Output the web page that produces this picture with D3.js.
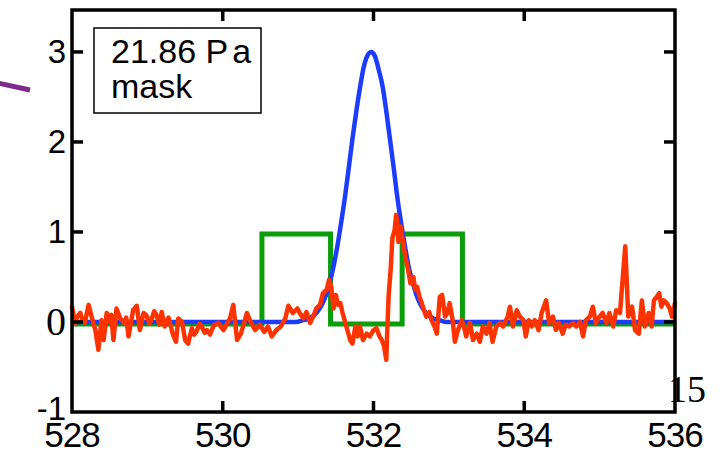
<!DOCTYPE html>
<html>
<head>
<meta charset="utf-8">
<script src="https://cdn.jsdelivr.net/npm/d3@7"></script>
<style>
  html, body { margin: 0; padding: 0; background: #fff; }
  svg { display: block; }
</style>
</head>
<body>
<svg id="chart" width="722" height="452"></svg>
<script>
// Axis ticks
const xTicks = [528, 530, 532, 534, 536];
const yTicks = [-1, 0, 1, 2, 3];

// Mask (step function): level holds from each edge to the next
const maskEdges  = [528, 530.52, 531.43, 532.38, 533.18, 536];
const maskLevels = [0, 1, 0, 1, 0, 0];

// Smooth reference peak
const peakX = [528, 530.97, 531.07, 531.12, 531.17, 531.22, 531.27, 531.32, 531.37, 531.42,
  531.47, 531.52, 531.57, 531.62, 531.67, 531.72, 531.77, 531.82, 531.87, 531.92, 531.97,
  532.02, 532.07, 532.12, 532.17, 532.22, 532.27, 532.32, 532.37, 532.42, 532.47, 532.52,
  532.57, 532.62, 532.67, 532.72, 532.77, 532.82, 532.87, 532.97, 536];
const peakY = [0, 0, 0.02, 0.03, 0.05, 0.08, 0.13, 0.20, 0.30, 0.44,
  0.62, 0.84, 1.10, 1.38, 1.70, 2.03, 2.33, 2.60, 2.83, 2.96, 3.00,
  2.95, 2.80, 2.62, 2.34, 2.02, 1.70, 1.36, 1.08, 0.83, 0.60, 0.44,
  0.30, 0.20, 0.13, 0.08, 0.05, 0.03, 0.02, 0, 0];

// Measured signal
const signalX = [528.00, 528.02, 528.04, 528.07, 528.11, 528.14, 528.17, 528.22, 528.26, 528.31,
  528.35, 528.39, 528.42, 528.46, 528.50, 528.52, 528.55, 528.59, 528.64, 528.69,
  528.72, 528.75, 528.81, 528.86, 528.90, 528.95, 528.99, 529.03, 529.06, 529.09,
  529.12, 529.16, 529.19, 529.23, 529.28, 529.34, 529.38, 529.41, 529.46, 529.50,
  529.54, 529.59, 529.62, 529.65, 529.69, 529.72, 529.76, 529.79, 529.83, 529.88,
  529.94, 530.01, 530.07, 530.10, 530.14, 530.19, 530.24, 530.28, 530.32, 530.37,
  530.43, 530.49, 530.55, 530.60, 530.65, 530.71, 530.77, 530.83, 530.87, 530.93,
  530.99, 531.02, 531.07, 531.11, 531.16, 531.20, 531.24, 531.29, 531.33, 531.38,
  531.41, 531.44, 531.47, 531.50, 531.53, 531.56, 531.59, 531.64, 531.69, 531.72,
  531.76, 531.79, 531.82, 531.86, 531.91, 531.95, 532.00, 532.04, 532.08, 532.11,
  532.14, 532.17, 532.18, 532.20, 532.23, 532.25, 532.28, 532.30, 532.32, 532.33,
  532.36, 532.40, 532.43, 532.46, 532.49, 532.53, 532.55, 532.58, 532.61, 532.64,
  532.67, 532.70, 532.74, 532.77, 532.81, 532.84, 532.88, 532.91, 532.95, 532.98,
  533.01, 533.05, 533.08, 533.12, 533.17, 533.20, 533.23, 533.28, 533.32, 533.37,
  533.41, 533.45, 533.50, 533.54, 533.58, 533.63, 533.68, 533.72, 533.78, 533.81,
  533.85, 533.90, 533.94, 533.99, 534.02, 534.06, 534.10, 534.14, 534.19, 534.23,
  534.29, 534.33, 534.38, 534.42, 534.46, 534.51, 534.55, 534.60, 534.65, 534.69,
  534.74, 534.78, 534.82, 534.87, 534.91, 534.95, 535.00, 535.04, 535.09, 535.13,
  535.18, 535.22, 535.27, 535.34, 535.38, 535.43, 535.47, 535.52, 535.56, 535.60,
  535.65, 535.69, 535.72, 535.76, 535.79, 535.82, 535.85, 535.89, 535.93, 535.96,
  536.00];
const signalY = [0.17, 0.08, -0.01, 0.06, 0.10, 0.02, -0.01, 0.19, 0.06, -0.09,
  -0.31, 0.02, -0.20, 0.10, 0.00, 0.08, -0.20, 0.15, 0.04, -0.01,
  0.05, -0.16, 0.13, 0.18, -0.09, 0.10, 0.07, -0.02, 0.04, 0.12,
  0.08, -0.03, 0.11, -0.05, 0.05, -0.14, -0.22, 0.04, 0.00, -0.20,
  -0.24, -0.07, -0.14, -0.11, -0.02, -0.05, -0.12, -0.09, -0.14, -0.04,
  -0.01, -0.09, 0.00, 0.05, 0.19, -0.20, -0.13, -0.02, 0.10, 0.00,
  -0.09, -0.03, -0.11, -0.05, -0.16, -0.09, -0.05, 0.04, 0.18, 0.10,
  0.15, 0.10, 0.04, 0.11, -0.01, 0.06, 0.15, 0.19, 0.32, 0.36,
  0.47, 0.39, 0.15, 0.30, 0.19, 0.21, 0.10, -0.05, -0.20, -0.24,
  -0.05, -0.16, -0.05, -0.20, -0.13, -0.16, -0.09, -0.07, -0.16, -0.20,
  -0.27, -0.42, -0.16, 0.28, 0.61, 0.93, 1.02, 1.19, 1.08, 0.89,
  1.06, 0.84, 0.69, 0.58, 0.43, 0.50, 0.36, 0.39, 0.28, 0.21,
  0.13, 0.06, 0.11, 0.02, -0.05, -0.13, 0.28, 0.30, 0.06, 0.10,
  0.21, 0.02, -0.22, -0.09, 0.02, -0.05, -0.16, -0.01, -0.20, -0.13,
  -0.22, -0.05, -0.13, -0.01, -0.22, -0.05, -0.01, -0.05, 0.06, 0.17,
  -0.05, 0.13, 0.06, 0.02, -0.16, 0.02, -0.05, 0.02, -0.09, 0.10,
  0.24, -0.01, 0.06, -0.09, -0.01, -0.13, -0.03, -0.05, -0.01, -0.05,
  0.00, -0.16, 0.02, 0.06, 0.17, -0.01, 0.06, 0.10, -0.01, 0.10,
  -0.05, 0.13, 0.10, 0.84, 0.06, 0.17, -0.09, -0.13, 0.24, -0.05,
  0.10, -0.05, 0.24, 0.28, 0.32, 0.17, 0.24, 0.21, 0.15, 0.06,
  0.21];

const svg = d3.select("#chart");
const plotLeft = 72, plotRight = 675, plotTop = 10, plotBottom = 412;

const x = d3.scaleLinear().domain([528, 536]).range([plotLeft, plotRight]);
const y = d3.scaleLinear().domain([-1, 3.466]).range([plotBottom, plotTop]);

// Stray connector line from the neighbouring panel
svg.append("line")
  .attr("x1", -2).attr("y1", 83).attr("x2", 30).attr("y2", 90)
  .attr("stroke", "#7b2a8c").attr("stroke-width", 5);

const plot = svg.append("g");

// Mask
plot.append("path")
  .datum(maskEdges.map((e, i) => [e, maskLevels[i]]))
  .attr("fill", "none")
  .attr("stroke", "#0a9e0a")
  .attr("stroke-width", 5)
  .attr("transform", "translate(0,2)")
  .attr("d", d3.line().x(d => x(d[0])).y(d => y(d[1])).curve(d3.curveStepAfter));

// Reference peak
plot.append("path")
  .datum(peakX.map((v, i) => [v, peakY[i]]))
  .attr("fill", "none")
  .attr("stroke", "#1c3cff")
  .attr("stroke-width", 4.5)
  .attr("stroke-linejoin", "round")
  .attr("d", d3.line().x(d => x(d[0])).y(d => y(d[1])).curve(d3.curveMonotoneX));

// Measured signal
plot.append("path")
  .datum(signalX.map((v, i) => [v, signalY[i]]))
  .attr("fill", "none")
  .attr("stroke", "#ff3300")
  .attr("stroke-width", 4.5)
  .attr("stroke-linejoin", "round")
  .attr("stroke-linecap", "round")
  .attr("d", d3.line().x(d => x(d[0])).y(d => y(d[1])));

// Frame and inward ticks
const frame = svg.append("g").attr("stroke", "#000").attr("stroke-width", 3.5).attr("fill", "none");
frame.append("path")
  .attr("d", `M${plotLeft},${plotTop}H${plotRight}V${plotBottom}H${plotLeft}Z`)
  .attr("stroke-linejoin", "miter");

const tickLen = 11;
xTicks.slice(1, -1).forEach(t => {
  frame.append("line").attr("x1", x(t)).attr("x2", x(t)).attr("y1", plotBottom).attr("y2", plotBottom - tickLen);
  frame.append("line").attr("x1", x(t)).attr("x2", x(t)).attr("y1", plotTop).attr("y2", plotTop + tickLen);
});
yTicks.slice(1).forEach(t => {
  frame.append("line").attr("y1", y(t)).attr("y2", y(t)).attr("x1", plotLeft).attr("x2", plotLeft + tickLen);
  frame.append("line").attr("y1", y(t)).attr("y2", y(t)).attr("x1", plotRight).attr("x2", plotRight - tickLen);
});

// Tick labels
const sans = "'Liberation Sans', Arial, Helvetica, sans-serif";
const serif = "'Liberation Serif', 'Times New Roman', serif";

svg.append("g").selectAll("text").data(xTicks).join("text")
  .attr("x", d => x(d)).attr("y", 447)
  .attr("text-anchor", "middle")
  .attr("font-family", sans).attr("font-size", 35)
  .attr("letter-spacing", -1)
  .text(d => d);

svg.append("g").selectAll("text").data(yTicks).join("text")
  .attr("x", 66)
  .attr("y", d => d === -1 ? 420 : (d === 0 ? y(d) + 13 : y(d) + 11.5))
  .attr("text-anchor", "end")
  .attr("font-family", d => d === 0 ? serif : sans)
  .attr("font-size", d => d === 0 ? 40 : 33)
  .text(d => d);

// Page number fragment
svg.append("text")
  .attr("x", 668).attr("y", 402)
  .attr("font-family", serif).attr("font-size", 38)
  .text("15");

// Legend box
svg.append("rect")
  .attr("x", 94).attr("y", 28).attr("width", 167).attr("height", 85)
  .attr("fill", "#fff").attr("stroke", "#000").attr("stroke-width", 1.5);
const leg = svg.append("text")
  .attr("font-family", sans).attr("font-size", 34).attr("fill", "#000");
leg.append("tspan").attr("x", 111).attr("y", 63).text("21.86 P");
leg.append("tspan").attr("dx", 4).text("a");
svg.append("text")
  .attr("x", 111).attr("y", 98)
  .attr("font-family", sans).attr("font-size", 34)
  .text("mask");
</script>
</body>
</html>
